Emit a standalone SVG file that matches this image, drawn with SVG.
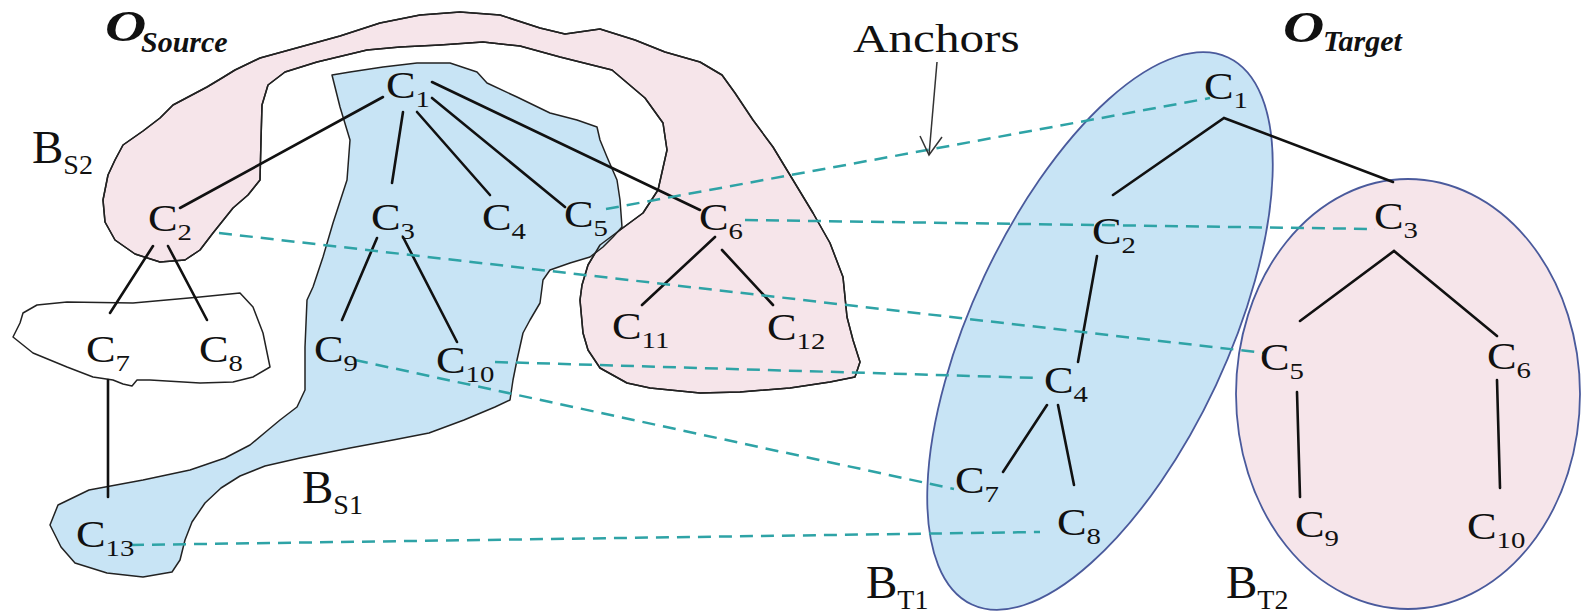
<svg xmlns="http://www.w3.org/2000/svg" xmlns:xlink="http://www.w3.org/1999/xlink" width="1583" height="612" viewBox="0 0 1583 612">
<style>
  .blob { stroke: #222; stroke-width: 1.5; stroke-linejoin: round; }
  .pink { fill: #f6e5ea; }
  .blue { fill: #c8e4f5; }
  .white { fill: #ffffff; }
  .outline { fill: none; stroke: #222; stroke-width: 1.5; stroke-linejoin: round; }
  .ell { stroke: #4a5a9c; stroke-width: 1.8; }
  .tree { stroke: #111; stroke-width: 2.6; fill: none; stroke-linecap: round; }
  .anchor { stroke: #2ea3a6; stroke-width: 2.5; fill: none; stroke-dasharray: 13 8; }
  .arrow { stroke: #333; stroke-width: 1.5; fill: none; }
  text { font-family: "Liberation Serif", "Times New Roman", serif; fill: #111; }
  .c { font-size: 37px; }
  .sub { font-size: 24px; }
  .b { font-size: 47px; }
  .bsub { font-size: 28px; }
  .title { font-weight: bold; font-style: italic; }
</style>
<defs>
  <path id="pinkPath" d="M103,200 L108,175 115,160 123,145 143,131 160,118 173,105 190,96 207,87 222,78 235,70 260,58 300,47 340,36 380,23 420,15 460,12 500,15 540,28 565,34 600,29 635,40 665,52 700,62 722,75 735,93 753,120 773,147 793,180 813,213 830,243 843,277 847,317 853,340 860,362 855,377 830,382 790,388 740,392 700,393 650,388 627,383 600,368 588,350 583,333 580,300 582,285 588,265 600,245 620,230 643,213 658,190 667,150 663,123 645,98 612,70 560,57 520,46 483,42 440,45 400,47 367,50 317,62 285,72 268,85 262,105 261,140 260,180 248,195 233,208 213,233 200,250 185,260 160,262 135,254 115,240 105,222 Z"/>
</defs>

<g id="region-BS2">
  <use xlink:href="#pinkPath" class="blob pink"/>
</g>
<g id="region-BS1">
  <path class="blob blue" d="M332,75 L350,72 383,67 417,63 450,63 477,72 487,83 517,97 550,113 577,120 597,127 600,140 607,157 617,180 620,200 622,227 613,237 603,247 590,257 570,263 550,270 543,280 540,303 530,320 523,333 517,360 513,380 510,400 495,407 464,420 429,433 393,440 350,448 300,458 265,466 240,476 221,488 205,503 192,522 185,540 180,560 172,572 143,577 107,573 75,563 61,547 50,525 58,505 89,490 143,480 190,470 225,458 250,445 268,430 280,420 297,407 305,390 305,347 307,300 313,287 323,257 333,223 347,180 350,140 340,107 Z"/>
  <use xlink:href="#pinkPath" class="outline"/>
</g>
<g id="region-C7C8">
  <path class="blob white" d="M13,337 L20,323 23,313 37,305 67,302 133,303 200,297 240,293 253,307 263,333 270,367 253,377 233,382 200,383 150,380 137,380 132,386 123,384 113,380 93,377 67,367 33,353 Z"/>
</g>
<g id="region-BT1">
  <ellipse class="ell blue" cx="1100" cy="331" rx="302" ry="128" transform="rotate(-64.9 1100 331)"/>
</g>
<g id="region-BT2">
  <ellipse class="ell pink" cx="1408" cy="394" rx="172" ry="215"/>
</g>

<g id="connectors">
  <line class="tree" x1="383" y1="97" x2="180" y2="208"/>
  <line class="tree" x1="403" y1="112" x2="392" y2="183"/>
  <line class="tree" x1="417" y1="112" x2="490" y2="195"/>
  <line class="tree" x1="432" y1="98" x2="565" y2="207"/>
  <line class="tree" x1="432" y1="82" x2="700" y2="210"/>
  <line class="tree" x1="377" y1="238" x2="342" y2="320"/>
  <line class="tree" x1="403" y1="237" x2="457" y2="342"/>
  <line class="tree" x1="715" y1="237" x2="642" y2="305"/>
  <line class="tree" x1="722" y1="250" x2="773" y2="305"/>
  <line class="tree" x1="153" y1="246" x2="110" y2="313"/>
  <line class="tree" x1="168" y1="246" x2="207" y2="320"/>
  <line class="tree" x1="108" y1="380" x2="108" y2="497"/>
  <polyline class="tree" points="1113,195 1224,118 1393,182"/>
  <polyline class="tree" points="1300,321 1394,251 1497,336"/>
  <line class="tree" x1="1097" y1="256" x2="1078" y2="362"/>
  <line class="tree" x1="1047" y1="405" x2="1003" y2="472"/>
  <line class="tree" x1="1058" y1="405" x2="1074" y2="485"/>
  <line class="tree" x1="1297" y1="392" x2="1300" y2="497"/>
  <line class="tree" x1="1497" y1="380" x2="1500" y2="488"/>
  <line class="anchor" x1="606" y1="209" x2="1210" y2="98"/>
  <line class="anchor" x1="745" y1="220" x2="1375" y2="229"/>
  <line class="anchor" x1="219" y1="233" x2="1265" y2="353"/>
  <line class="anchor" x1="495" y1="362" x2="1040" y2="378"/>
  <line class="anchor" x1="355" y1="360" x2="954" y2="489"/>
  <line class="anchor" x1="131" y1="545" x2="1040" y2="532"/>
  <line class="arrow" x1="937" y1="62" x2="929" y2="155"/>
  <polyline class="arrow" points="920,136 929,155 942,137"/>
</g>

<g id="labels">
  <g id="title-source"><text class="title" transform="translate(105 41) scale(1.3 1)" font-size="44">O</text><text class="title" x="141" y="52" font-size="30">Source</text></g>
  <g id="title-target"><text class="title" transform="translate(1283 42) scale(1.3 1)" font-size="44">O</text><text class="title" x="1323" y="51" font-size="30">Target</text></g>
  <g id="label-anchors"><text transform="translate(853 52) scale(1.2 1)" font-size="41">Anchors</text></g>
  <g id="label-BS2"><text class="b" x="32" y="163">B<tspan class="bsub" dy="11">S2</tspan></text></g>
  <g id="label-BS1"><text class="b" x="302" y="503">B<tspan class="bsub" dy="11">S1</tspan></text></g>
  <g id="label-BT1"><text class="b" x="866" y="598">B<tspan class="bsub" dy="11">T1</tspan></text></g>
  <g id="label-BT2"><text class="b" x="1226" y="598">B<tspan class="bsub" dy="11">T2</tspan></text></g>
</g>

<g id="node-S-C1"><text class="c" transform="translate(386 98) scale(1.2 1)">C<tspan class="sub" dy="9">1</tspan></text></g>
<g id="node-S-C2"><text class="c" transform="translate(148 231) scale(1.2 1)">C<tspan class="sub" dy="9">2</tspan></text></g>
<g id="node-S-C3"><text class="c" transform="translate(371 230) scale(1.2 1)">C<tspan class="sub" dy="9">3</tspan></text></g>
<g id="node-S-C4"><text class="c" transform="translate(482 230) scale(1.2 1)">C<tspan class="sub" dy="9">4</tspan></text></g>
<g id="node-S-C5"><text class="c" transform="translate(564 227) scale(1.2 1)">C<tspan class="sub" dy="9">5</tspan></text></g>
<g id="node-S-C6"><text class="c" transform="translate(699 230) scale(1.2 1)">C<tspan class="sub" dy="9">6</tspan></text></g>
<g id="node-S-C7"><text class="c" transform="translate(86 362) scale(1.2 1)">C<tspan class="sub" dy="9">7</tspan></text></g>
<g id="node-S-C8"><text class="c" transform="translate(199 362) scale(1.2 1)">C<tspan class="sub" dy="9">8</tspan></text></g>
<g id="node-S-C9"><text class="c" transform="translate(314 362) scale(1.2 1)">C<tspan class="sub" dy="9">9</tspan></text></g>
<g id="node-S-C10"><text class="c" transform="translate(436 373) scale(1.2 1)">C<tspan class="sub" dy="9">10</tspan></text></g>
<g id="node-S-C11"><text class="c" transform="translate(612 339) scale(1.2 1)">C<tspan class="sub" dy="9">11</tspan></text></g>
<g id="node-S-C12"><text class="c" transform="translate(767 340) scale(1.2 1)">C<tspan class="sub" dy="9">12</tspan></text></g>
<g id="node-S-C13"><text class="c" transform="translate(76 547) scale(1.2 1)">C<tspan class="sub" dy="9">13</tspan></text></g>

<g id="node-T-C1"><text class="c" transform="translate(1204 99) scale(1.2 1)">C<tspan class="sub" dy="9">1</tspan></text></g>
<g id="node-T-C2"><text class="c" transform="translate(1092 244) scale(1.2 1)">C<tspan class="sub" dy="9">2</tspan></text></g>
<g id="node-T-C3"><text class="c" transform="translate(1374 229) scale(1.2 1)">C<tspan class="sub" dy="9">3</tspan></text></g>
<g id="node-T-C4"><text class="c" transform="translate(1044 393) scale(1.2 1)">C<tspan class="sub" dy="9">4</tspan></text></g>
<g id="node-T-C5"><text class="c" transform="translate(1260 370) scale(1.2 1)">C<tspan class="sub" dy="9">5</tspan></text></g>
<g id="node-T-C6"><text class="c" transform="translate(1487 369) scale(1.2 1)">C<tspan class="sub" dy="9">6</tspan></text></g>
<g id="node-T-C7"><text class="c" transform="translate(955 493) scale(1.2 1)">C<tspan class="sub" dy="9">7</tspan></text></g>
<g id="node-T-C8"><text class="c" transform="translate(1057 535) scale(1.2 1)">C<tspan class="sub" dy="9">8</tspan></text></g>
<g id="node-T-C9"><text class="c" transform="translate(1295 537) scale(1.2 1)">C<tspan class="sub" dy="9">9</tspan></text></g>
<g id="node-T-C10"><text class="c" transform="translate(1467 539) scale(1.2 1)">C<tspan class="sub" dy="9">10</tspan></text></g>
</svg>
